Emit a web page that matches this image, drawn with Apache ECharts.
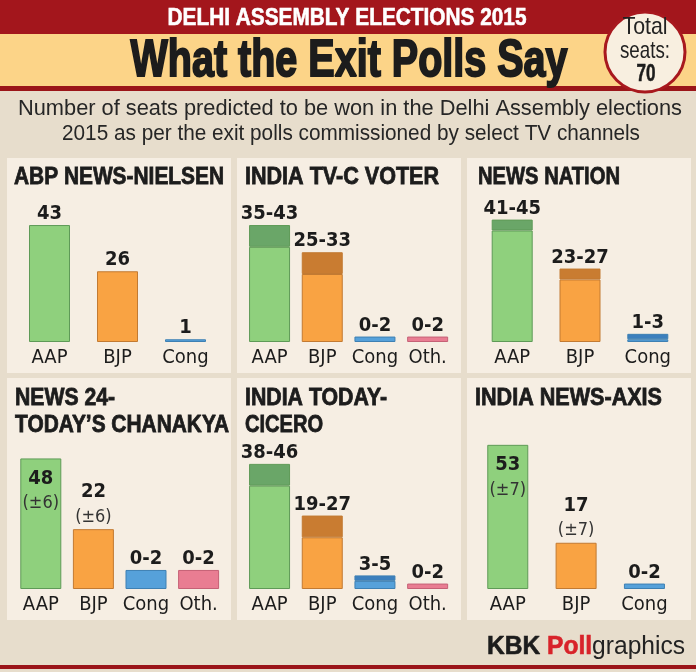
<!DOCTYPE html>
<html>
<head>
<meta charset="utf-8">
<script src="https://cdn.jsdelivr.net/npm/echarts@6/dist/echarts.min.js"></script>
<style>
  html, body { margin: 0; padding: 0; background: #e7ddcc; }
  #chart { width: 696px; height: 672px; }
</style>
</head>
<body>
<div id="chart"></div>
<script>
// categories
var threeParties = ['AAP', 'BJP', 'Cong'];
var fourParties = ['AAP', 'BJP', 'Cong', 'Oth.'];

// panel names
var pollsters = ['ABP NEWS-NIELSEN', 'INDIA TV-C VOTER', 'NEWS NATION',
  'NEWS 24-\nTODAY\u2019S CHANAKYA', 'INDIA TODAY-\nCICERO', 'INDIA NEWS-AXIS'];

// seats: lower end, width of the range, printed label
var abpLow = [43, 26, 1];
var abpSpan = [0, 0, 0];
var abpText = ['43', '26', '1'];

var cvoterLow = [35, 25, 2, 2];
var cvoterSpan = [8, 8, 0, 0];
var cvoterText = ['35-43', '25-33', '0-2', '0-2'];

var nationLow = [41, 23, 1];
var nationSpan = [4, 4, 2];
var nationText = ['41-45', '23-27', '1-3'];

var chanakyaLow = [48, 22, 7, 7];
var chanakyaSpan = [0, 0, 0, 0];
var chanakyaText = ['48', '22', '0-2', '0-2'];
var chanakyaMargin = ['\u00b16', '\u00b16', '', ''];

var ciceroLow = [38, 19, 3, 2];
var ciceroSpan = [8, 8, 2, 0];
var ciceroText = ['38-46', '19-27', '3-5', '0-2'];

var axisLow = [53, 17, 2];
var axisSpan = [0, 0, 0];
var axisText = ['53', '17', '0-2'];
var axisMargin = ['\u00b17', '\u00b17', ''];

var totalSeats = 70;

var light = { 'AAP': '#8fd07d', 'BJP': '#f9a343', 'Cong': '#56a1da', 'Oth.': '#e97d92' };
var dark = { 'AAP': '#6aa668', 'BJP': '#c97c31', 'Cong': '#3c7fbd', 'Oth.': '#c9606f' };
var edge = { 'AAP': '#5e9a57', 'BJP': '#c27a32', 'Cong': '#3e80b3', 'Oth.': '#c56176' };

var COND = "'DejaVu Sans Condensed', 'Liberation Sans Narrow', sans-serif";
var ink = '#1c1c1c';

var panels = [
  { cats: threeParties, low: abpLow, span: abpSpan, text: abpText, margin: null, grid: { left: 15.5, width: 204, top: 178.8 } },
  { cats: fourParties, low: cvoterLow, span: cvoterSpan, text: cvoterText, margin: null, grid: { left: 243.2, width: 210.8, top: 178.8 } },
  { cats: threeParties, low: nationLow, span: nationSpan, text: nationText, margin: null, grid: { left: 478.3, width: 203.4, top: 178.8 } },
  { cats: fourParties, low: chanakyaLow, span: chanakyaSpan, text: chanakyaText, margin: chanakyaMargin, grid: { left: 14.5, width: 210.4, top: 425.8 } },
  { cats: fourParties, low: ciceroLow, span: ciceroSpan, text: ciceroText, margin: null, grid: { left: 243.2, width: 210.8, top: 425.8 } },
  { cats: threeParties, low: axisLow, span: axisSpan, text: axisText, margin: axisMargin, grid: { left: 473.6, width: 205, top: 425.8 } }
];

// measuring text so it can be squeezed to the width of the original lettering
var measureCtx = document.createElement('canvas').getContext('2d');
function textWidth(s, font) {
  measureCtx.font = font;
  return measureCtx.measureText(s).width;
}
function fitText(s, x, y, font, w, opts) {
  opts = opts || {};
  var align = opts.align || 'left';
  return {
    type: 'text', x: x, y: y, z: 20,
    scaleX: w ? w / textWidth(s, font) : 1,
    style: {
      text: s, font: font, fill: opts.fill || ink,
      stroke: opts.stroke || null, lineWidth: opts.lineWidth || 0,
      align: align, textAlign: align,
      verticalAlign: 'middle', textVerticalAlign: 'middle'
    }
  };
}

var labelRich = {
  v: { fontFamily: COND, fontWeight: 'bold', fontSize: 20, color: ink, lineHeight: 24 },
  m: { fontFamily: COND, fontSize: 18, color: '#333', lineHeight: 26 }
};

function labelFor(p, i) {
  var s = '{v|' + p.text[i] + '}';
  if (p.margin && p.margin[i]) s += '\n{m|(' + p.margin[i] + ')}';
  var inside = p.margin && p.margin[i] && p.low[i] >= 40;
  return {
    show: true,
    position: inside ? 'insideTop' : 'top',
    distance: inside ? 8 : -1,
    formatter: s,
    rich: labelRich
  };
}

var grids = [], xAxes = [], yAxes = [], series = [];
panels.forEach(function (p, k) {
  grids.push({ left: p.grid.left, width: p.grid.width, top: p.grid.top, height: 163.2 });
  xAxes.push({
    type: 'category', gridIndex: k, data: p.cats,
    axisLine: { show: false }, axisTick: { show: false },
    axisLabel: { interval: 0, hideOverlap: false, color: ink, fontFamily: COND, fontSize: 20, margin: 6 }
  });
  yAxes.push({ type: 'value', gridIndex: k, min: 0, max: 60, show: false, splitLine: { show: false } });

  var baseData = p.low.map(function (v, i) {
    var c = p.cats[i];
    var item = { value: v, itemStyle: { color: light[c], borderColor: edge[c], borderWidth: 1 } };
    item.label = p.span[i] ? { show: false } : labelFor(p, i);
    return item;
  });
  var spanData = p.span.map(function (v, i) {
    var c = p.cats[i];
    if (!v) return '-';
    return { value: v, itemStyle: { color: dark[c], borderColor: edge[c], borderWidth: 1 }, label: labelFor(p, i) };
  });
  series.push({ type: 'bar', xAxisIndex: k, yAxisIndex: k, stack: 'p' + k, barWidth: 41, data: baseData });
  series.push({ type: 'bar', xAxisIndex: k, yAxisIndex: k, stack: 'p' + k, barWidth: 41, data: spanData });
});

// page furniture
var g = [];
g.push({ type: 'rect', z: -10, shape: { x: 0, y: 0, width: 696, height: 672 }, style: { fill: '#e7ddcc' } });
g.push({ type: 'rect', z: -9, shape: { x: 0, y: 0, width: 696, height: 34 }, style: { fill: '#a3161c' } });
g.push({ type: 'rect', z: -9, shape: { x: 0, y: 34, width: 696, height: 52 }, style: { fill: '#fcd488' } });
g.push({ type: 'rect', z: -9, shape: { x: 0, y: 86, width: 696, height: 5 }, style: { fill: '#9b1519' } });
g.push({ type: 'rect', z: -9, shape: { x: 0, y: 665, width: 696, height: 4 }, style: { fill: '#9b1519' } });

var panelBoxes = [
  [7, 158, 224, 215], [237, 158, 224, 215], [467, 158, 224, 215],
  [7, 378, 224, 242], [237, 378, 224, 242], [467, 378, 224, 242]
];
panelBoxes.forEach(function (b) {
  g.push({ type: 'rect', z: -8, shape: { x: b[0], y: b[1], width: b[2], height: b[3] }, style: { fill: '#f6eee3' } });
});

// headings
var heavy = 'bold 24px "Liberation Sans", sans-serif';
g.push(fitText('DELHI ASSEMBLY ELECTIONS 2015', 347, 18, heavy, 359, { align: 'center', fill: '#ffffff', stroke: '#ffffff', lineWidth: 0.6 }));
g.push(fitText('What the Exit Polls Say', 349, 62, 'bold 52px "Liberation Sans", sans-serif', 437, { align: 'center', stroke: ink, lineWidth: 2 }));
var sub = '22px "Liberation Sans", sans-serif';
g.push(fitText('Number of seats predicted to be won in the Delhi Assembly elections', 350, 109, sub, 664, { align: 'center', fill: '#262626' }));
g.push(fitText('2015 as per the exit polls commissioned by select TV channels', 351, 134, sub, 578, { align: 'center', fill: '#262626' }));

// total seats badge
g.push({ type: 'circle', z: 15, shape: { cx: 645, cy: 52, r: 40 }, style: { fill: '#f8efe0', stroke: '#a8181e', lineWidth: 3 } });
var badge = '24px "Liberation Sans", sans-serif';
g.push(fitText('Total', 645, 27, badge, 45, { align: 'center', fill: '#222' }));
g.push(fitText('seats:', 645, 51, badge, 50, { align: 'center', fill: '#222' }));
g.push(fitText(String(totalSeats), 646, 74, 'bold 24px "Liberation Sans", sans-serif', 19, { align: 'center', stroke: ink, lineWidth: 0.6 }));

// panel titles
var titlePos = [
  [[14, 177, 210]], [[245, 177, 194]], [[478, 177, 142]],
  [[15, 398, 100], [15, 425, 214]], [[245, 398, 142], [245, 425, 78]], [[475, 398, 187]]
];
pollsters.forEach(function (name, k) {
  name.split('\n').forEach(function (line, j) {
    var pos = titlePos[k][j];
    g.push(fitText(line, pos[0], pos[1], heavy, pos[2], { stroke: ink, lineWidth: 0.8 }));
  });
});

// footer credit
var footParts = [
  ['KBK ', 'bold 26px "Liberation Sans", sans-serif', ink, 0.6],
  ['Poll', 'bold 26px "Liberation Sans", sans-serif', '#d8232a', 0.6],
  ['graphics', '26px "Liberation Sans", sans-serif', '#222', 0]
];
var footTotal = footParts.reduce(function (s, f) { return s + textWidth(f[0], f[1]); }, 0);
var footScale = 198 / footTotal;
var fx = 487;
footParts.forEach(function (f) {
  var w = textWidth(f[0], f[1]) * footScale;
  g.push(fitText(f[0], fx, 647, f[1], w, { fill: f[2], stroke: f[3] ? f[2] : null, lineWidth: f[3] }));
  fx += w;
});

var chart = echarts.init(document.getElementById('chart'));
chart.setOption({
  animation: false,
  backgroundColor: '#e7ddcc',
  graphic: { elements: g },
  grid: grids,
  xAxis: xAxes,
  yAxis: yAxes,
  series: series
});
</script>
</body>
</html>
